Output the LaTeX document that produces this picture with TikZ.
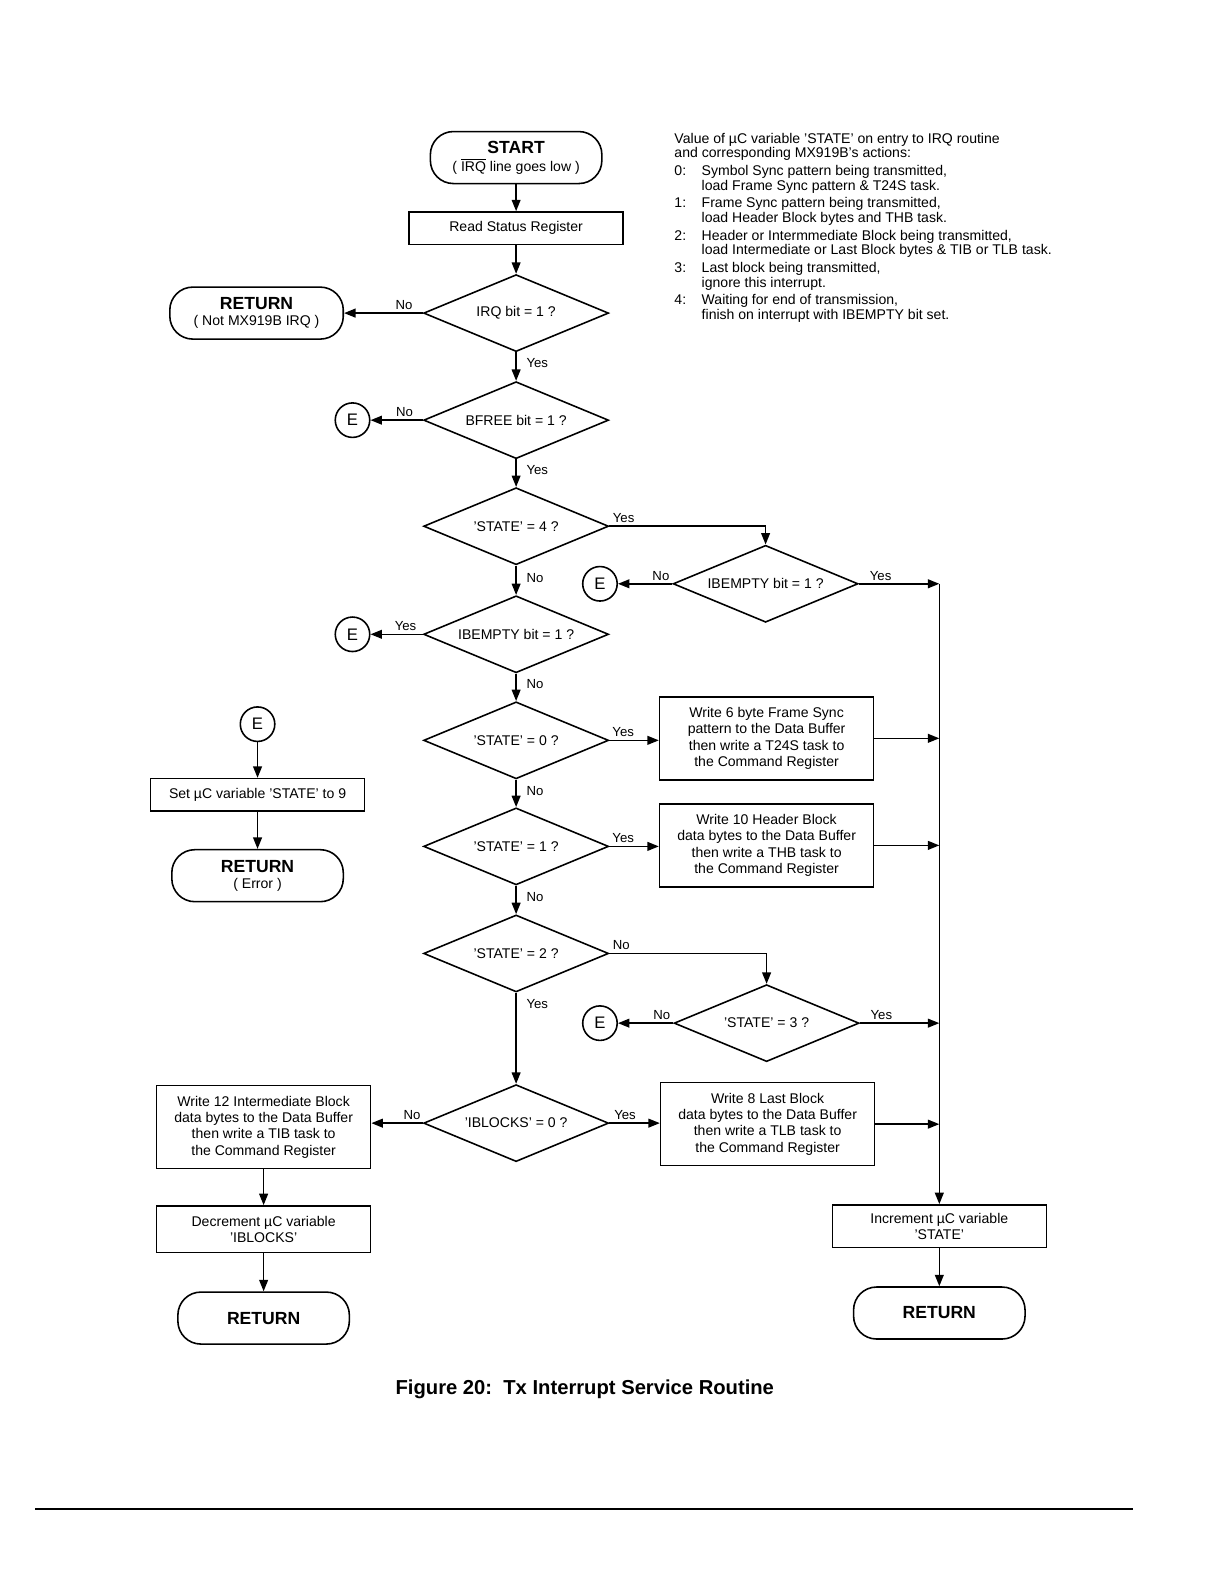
\documentclass[tikz,border=0pt]{standalone}
\usepackage{fontspec}
\setmainfont{Liberation Sans}
\usetikzlibrary{shapes.geometric,arrows.meta}

\newcommand{\termfont}{\fontsize{10}{11.5}\selectfont\bfseries}
\newcommand{\ovl}[1]{\setbox0\hbox{#1}\rlap{\rule[\dimexpr\ht0+1.1pt\relax]{\wd0}{0.5pt}}#1}

\begin{document}
\begin{tikzpicture}[x=0.0202cm, y=-0.0202cm, line width=0.9pt,
    every node/.style={font=\fontsize{8}{9.3}\selectfont},
    term/.style={draw, rounded corners=0.46cm, minimum width=3.43cm, minimum height=1.04cm, align=center, inner sep=1pt},
    proc/.style={draw, rectangle, minimum width=4.28cm, align=center, inner sep=2pt},
    decision/.style={draw, diamond, aspect=2.4, minimum width=3.7cm, minimum height=1.54cm, inner sep=0pt},
    conn/.style={draw, circle, minimum size=0.69cm, inner sep=0pt, font=\fontsize{9.5}{10}\selectfont},
    arr/.style={-{Triangle[length=6.5pt,width=5pt]}},
    lbl/.style={font=\fontsize{7.5}{8}\selectfont, inner sep=1.5pt}]
    \useasboundingbox (0,0) rectangle (1211.9,1568.3);

    % Entry and status read
    \node[term] (start) at (511,156) {{\termfont START}\\[1pt]( \ovl{IRQ} line goes low )};
    \node[proc, minimum height=0.65cm] (status) at (511,226) {Read Status Register};
    \node[decision] (irq) at (511,310) {IRQ bit = 1 ?};
    \node[term, minimum width=3.47cm] (retirq) at (254,310) {{\termfont RETURN}\\( Not MX919B IRQ )};
    \node[decision] (bfree) at (511,416) {BFREE bit = 1 ?};
    \node[conn] (e1) at (349,416) {E};

    % State tests
    \node[decision] (st4) at (511,521) {'STATE' = 4 ?};
    \node[decision] (ibeB) at (758,578) {IBEMPTY bit = 1 ?};
    \node[conn] (e2) at (594,578) {E};
    \node[decision] (ibeA) at (511,628) {IBEMPTY bit = 1 ?};
    \node[conn] (e3) at (349,628) {E};
    \node[decision] (st0) at (511,733) {'STATE' = 0 ?};
    \node[proc, minimum height=1.66cm] (wr0) at (759,731) {Write 6 byte Frame Sync\\pattern to the Data Buffer\\then write a T24S task to\\the Command Register};
    \node[decision] (st1) at (511,838) {'STATE' = 1 ?};
    \node[proc, minimum height=1.66cm] (wr1) at (759,837) {Write 10 Header Block\\data bytes to the Data Buffer\\then write a THB task to\\the Command Register};
    \node[decision] (st2) at (511,944) {'STATE' = 2 ?};
    \node[decision] (st3) at (759,1013) {'STATE' = 3 ?};
    \node[conn] (e4) at (594,1013) {E};
    \node[decision] (iblk) at (511,1112) {'IBLOCKS' = 0 ?};
    \node[proc, minimum height=1.66cm] (wrI) at (261,1116) {Write 12 Intermediate Block\\data bytes to the Data Buffer\\then write a TIB task to\\the Command Register};
    \node[proc, minimum height=1.66cm] (wrL) at (760,1113) {Write 8 Last Block\\data bytes to the Data Buffer\\then write a TLB task to\\the Command Register};

    % Exits
    \node[proc, minimum height=0.93cm] (dec) at (261,1217) {Decrement µC variable\\'IBLOCKS'};
    \node[term] (retA) at (261,1305) {\termfont RETURN};
    \node[proc, minimum height=0.85cm] (inc) at (930,1214) {Increment µC variable\\'STATE'};
    \node[term] (retB) at (930,1300) {\termfont RETURN};
    \coordinate (bus) at (930,578);

    % Error exit
    \node[conn] (e0) at (255,717) {E};
    \node[proc, minimum height=0.65cm] (seterr) at (255,787) {Set µC variable 'STATE' to 9};
    \node[term] (reterr) at (255,867) {{\termfont RETURN}\\( Error )};

    % Notes
    \node[anchor=north west, inner sep=0pt, font=\fontsize{8}{8.3}\selectfont] (notes) at (667,131) {%
      \begin{tabular}{@{}p{0.545cm}@{}l@{}}
        \multicolumn{2}{@{}l@{}}{Value of µC variable 'STATE' on entry to IRQ routine}\\
        \multicolumn{2}{@{}l@{}}{and corresponding MX919B's actions:}\\[1.8pt]
        0: & Symbol Sync pattern being transmitted,\\
           & load Frame Sync pattern \& T24S task.\\[1.8pt]
        1: & Frame Sync pattern being transmitted,\\
           & load Header Block bytes and THB task.\\[1.8pt]
        2: & Header or Intermmediate Block being transmitted,\\
           & load Intermediate or Last Block bytes \& TIB or TLB task.\\[1.8pt]
        3: & Last block being transmitted,\\
           & ignore this interrupt.\\[1.8pt]
        4: & Waiting for end of transmission,\\
           & finish on interrupt with IBEMPTY bit set.
      \end{tabular}};

    % Connectors
    \draw[arr] (start) -- (status);
    \draw[arr] (status) -- (irq);
    \draw[arr] (irq.west) -- node[lbl, above, pos=0.24] {No} (retirq.east);
    \draw[arr] (irq) -- node[lbl, right=4pt, pos=0.37] {Yes} (bfree);
    \draw[arr] (bfree.west) -- node[lbl, above, pos=0.35] {No} (e1);
    \draw[arr] (bfree) -- node[lbl, right=4pt, pos=0.37] {Yes} (st4);
    \draw[arr] (st4.east) node[lbl, above right] {Yes} -| (ibeB.north);
    \draw[arr] (ibeB.west) -- node[lbl, above, pos=0.21] {No} (e2);
    \draw[arr] (ibeB.east) -- node[lbl, above, pos=0.27] {Yes} (bus);
    \draw[arr] (st4) -- node[lbl, right=4pt, pos=0.42] {No} (ibeA);
    \draw[arr] (ibeA.west) -- node[lbl, above, pos=0.33] {Yes} (e3);
    \draw[arr] (ibeA) -- node[lbl, right=4pt, pos=0.37] {No} (st0);
    \draw[arr] (st0.east) -- node[lbl, above, pos=0.28] {Yes} (st0.east -| wr0.west);
    \draw[arr] (st0) -- node[lbl, right=4pt, pos=0.4] {No} (st1);
    \draw[arr] (st1.east) -- node[lbl, above, pos=0.28] {Yes} (st1.east -| wr1.west);
    \draw[arr] (st1) -- node[lbl, right=4pt, pos=0.4] {No} (st2);
    \draw[arr] (st2.east) node[lbl, above right] {No} -| (st3.north);
    \draw[arr] (st3.west) -- node[lbl, above, pos=0.21] {No} (e4);
    \draw[arr] (st3.east) -- node[lbl, above, pos=0.27] {Yes} (st3.east -| bus);
    \draw[arr] (st2) -- node[lbl, right=4pt, pos=0.12] {Yes} (iblk);
    \draw[arr] (iblk.west) -- node[lbl, above, pos=0.21] {No} (iblk.west -| wrI.east);
    \draw[arr] (iblk.east) -- node[lbl, above, pos=0.31] {Yes} (iblk.east -| wrL.west);
    \draw[arr] (wr0.east) -- (wr0.east -| bus);
    \draw[arr] (wr1.east) -- (wr1.east -| bus);
    \draw[arr] (wrL.east) -- (wrL.east -| bus);
    \draw[arr] (bus) -- (bus |- inc.north);
    \draw[arr] (wrI) -- (dec);
    \draw[arr] (dec) -- (retA);
    \draw[arr] (inc) -- (retB);
    \draw[arr] (e0) -- (seterr);
    \draw[arr] (seterr) -- (reterr);

    % Caption and page rule
    \node[font=\fontsize{11.5}{13}\selectfont\bfseries] (caption) at (579,1376) {Figure 20:\ \ Tx Interrupt Service Routine};
    \draw (35,1494) -- (1122,1494);
\end{tikzpicture}
\end{document}
